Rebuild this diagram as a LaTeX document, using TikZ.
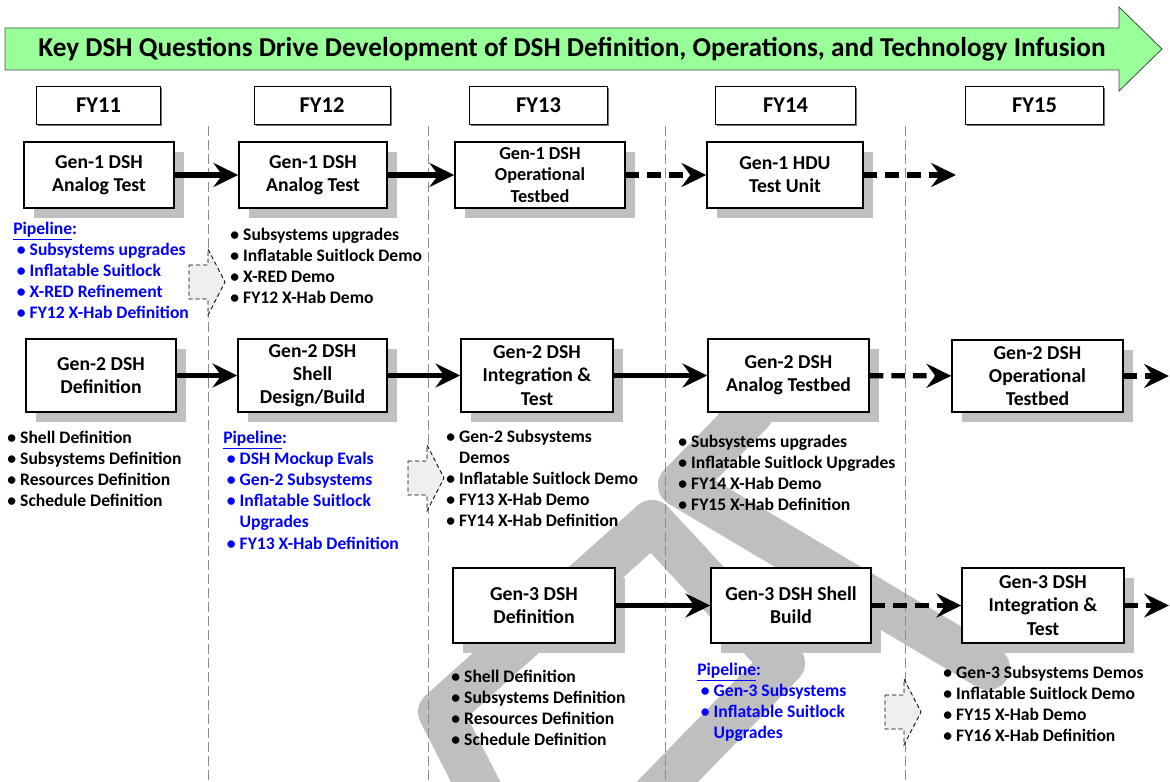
\documentclass[tikz,border=0pt]{standalone}
\usepackage{fontspec}
\setmainfont{Carlito}
\usetikzlibrary{arrows.meta,shadows}
\definecolor{arrowgreen}{HTML}{99FF99}
\definecolor{shade}{HTML}{C0C0C0}
\definecolor{markgray}{HTML}{BFBFBF}
\definecolor{pipeblue}{HTML}{0000FF}
\definecolor{divgray}{HTML}{8C8C8C}
\definecolor{pushfill}{HTML}{EFEFEF}
\tikzstyle{genbox}=[draw=black, fill=white, line width=1pt, align=center, inner sep=0pt, font=\bfseries\fontsize{14}{16.5}\selectfont, drop shadow={fill=shade, opacity=1, shadow xshift=0.25cm, shadow yshift=-0.26cm}]
\tikzstyle{yearbox}=[draw=black, fill=white, line width=0.6pt, minimum height=0.95cm, font=\bfseries\fontsize{16}{18}\selectfont, drop shadow={fill=black!55, opacity=1, shadow xshift=0.04cm, shadow yshift=-0.04cm}]
\tikzstyle{notes}=[anchor=north west, inner sep=0pt, align=left, font=\bfseries\fontsize{12.5}{15}\selectfont]
\tikzstyle{pipe}=[notes, text=pipeblue]
\tikzstyle{flow}=[line width=3.8pt, -{Stealth[length=0.62cm, width=0.6cm, inset=0.22cm]}]
\tikzstyle{plan}=[flow, dash pattern=on 0.34cm off 0.2cm]
\tikzstyle{divider}=[divgray, line width=0.7pt, dash pattern=on 0.25cm off 0.1cm]
\tikzstyle{wmark}=[markgray, line width=1.1cm, line cap=round, line join=round]
\tikzset{push/.pic={\draw[fill=pushfill, line width=0.6pt, dash pattern=on 3pt off 2pt] (-19,-17) -- (0,-17) -- (0,-33) -- (17,0) -- (0,33) -- (0,17) -- (-19,17) -- cycle;}}
\newcommand{\itm}{\makebox[9.2pt][l]{\textbullet}}
\newcommand{\ind}{\hspace*{9.2pt}}
\newcommand{\pin}{\hspace*{2.5pt}}

\begin{document}
\begin{tikzpicture}[x=0.025cm, y=-0.025cm]
  \useasboundingbox (0,0) rectangle (1170,782);
  % watermark strokes
  \begin{scope}
    \clip (0,0) rectangle (1170,782);
    \draw[wmark] (490,810) -- (440,712) -- (652,522) -- (783,663) -- (640,810);
    \draw[wmark] (752,412) -- (680,485) -- (988,668);
  \end{scope}
  % banner
  \draw[fill=arrowgreen, draw=black!70, line width=0.6pt] (5,28) -- (1119,28) -- (1119,7) -- (1162,49) -- (1119,91) -- (1119,70) -- (5,70) -- cycle;
  \node[font=\bfseries\fontsize{19.4}{22}\selectfont] (title) at (572,49) {Key DSH Questions Drive Development of DSH Definition, Operations, and Technology Infusion};
  % years
  \node[yearbox, minimum width=3.08cm] (fy11) at (98.5,105) {FY11};
  \node[yearbox, minimum width=3.4cm] (fy12) at (322,105) {FY12};
  \node[yearbox, minimum width=3.43cm] (fy13) at (538.5,105) {FY13};
  \node[yearbox, minimum width=3.48cm] (fy14) at (785.5,105) {FY14};
  \node[yearbox, minimum width=3.43cm] (fy15) at (1034.5,105) {FY15};
  \foreach \x in {208,428,665,905}
    \draw[divider] (\x,126) -- (\x,782);
  % Gen-1
  \node[genbox, minimum width=3.75cm, minimum height=1.65cm] (g11) at (99,175) {Gen-1 DSH\\Analog Test};
  \node[genbox, minimum width=3.7cm, minimum height=1.65cm] (g12) at (313,175) {Gen-1 DSH\\Analog Test};
  \node[genbox, minimum width=4.25cm, minimum height=1.65cm, font=\bfseries\fontsize{13}{15.4}\selectfont] (g13) at (540,175) {Gen-1 DSH\\Operational\\Testbed};
  \node[genbox, minimum width=3.9cm, minimum height=1.65cm] (g14) at (785,175) {Gen-1 HDU\\Test Unit};
  \coordinate (e14) at (956,175);
  \draw[flow] (g11) -- (g12);
  \draw[flow] (g12) -- (g13);
  \draw[plan] (g13) -- (g14);
  \draw[plan] (g14) -- (e14);
  \node[pipe] (l11) at (13,222) {\underline{Pipeline}:\\\pin\itm Subsystems upgrades\\\pin\itm Inflatable Suitlock\\\pin\itm X-RED Refinement\\\pin\itm FY12 X-Hab Definition};
  \node[notes] (l12) at (230,228) {\itm Subsystems upgrades\\\itm Inflatable Suitlock Demo\\\itm X-RED Demo\\\itm FY12 X-Hab Demo};
  \pic at (208,282) {push};
  % Gen-2
  \node[genbox, minimum width=3.75cm, minimum height=1.825cm] (g21) at (101,375.5) {Gen-2 DSH\\Definition};
  \node[genbox, minimum width=3.725cm, minimum height=1.825cm] (g22) at (312.5,375.5) {Gen-2 DSH\\Shell\\Design/Build};
  \node[genbox, minimum width=3.8cm, minimum height=1.825cm] (g23) at (537,375.5) {Gen-2 DSH\\Integration \&\\Test};
  \node[genbox, minimum width=4.025cm, minimum height=1.825cm] (g24) at (788.5,375.5) {Gen-2 DSH\\Analog Testbed};
  \node[genbox, minimum width=4.275cm, minimum height=1.8cm] (g25) at (1037.5,376) {Gen-2 DSH\\Operational\\Testbed};
  \coordinate (e25) at (1169,376);
  \draw[flow] (g21) -- (g22);
  \draw[flow] (g22) -- (g23);
  \draw[flow] (g23) -- (g24);
  \draw[plan] (g24) -- (g25);
  \draw[plan] (g25) -- (e25);
  \node[notes] (l21) at (7,431) {\itm Shell Definition\\\itm Subsystems Definition\\\itm Resources Definition\\\itm Schedule Definition};
  \node[pipe] (l22) at (223,431) {\underline{Pipeline}:\\\pin\itm DSH Mockup Evals\\\pin\itm Gen-2 Subsystems\\\pin\itm Inflatable Suitlock\\\pin\ind Upgrades\\\pin\itm FY13 X-Hab Definition};
  \node[notes] (l23) at (446,430) {\itm Gen-2 Subsystems\\\ind Demos\\\itm Inflatable Suitlock Demo\\\itm FY13 X-Hab Demo\\\itm FY14 X-Hab Definition};
  \node[notes] (l24) at (678,435) {\itm Subsystems upgrades\\\itm Inflatable Suitlock Upgrades\\\itm FY14 X-Hab Demo\\\itm FY15 X-Hab Definition};
  \pic at (427,478) {push};
  % Gen-3
  \node[genbox, minimum width=4.05cm, minimum height=1.875cm] (g31) at (534,605.5) {Gen-3 DSH\\Definition};
  \node[genbox, minimum width=4cm, minimum height=1.875cm] (g32) at (791,605.5) {Gen-3 DSH Shell\\Build};
  \node[genbox, minimum width=4.05cm, minimum height=1.875cm] (g33) at (1043,605.5) {Gen-3 DSH\\Integration \&\\Test};
  \coordinate (e33) at (1169,605.5);
  \draw[flow] (g31) -- (g32);
  \draw[plan] (g32) -- (g33);
  \draw[plan] (g33) -- (e33);
  \node[notes] (l31) at (451,670) {\itm Shell Definition\\\itm Subsystems Definition\\\itm Resources Definition\\\itm Schedule Definition};
  \node[pipe] (l32) at (697,663) {\underline{Pipeline}:\\\pin\itm Gen-3 Subsystems\\\pin\itm Inflatable Suitlock\\\pin\ind Upgrades};
  \node[notes] (l33) at (943,666) {\itm Gen-3 Subsystems Demos\\\itm Inflatable Suitlock Demo\\\itm FY15 X-Hab Demo\\\itm FY16 X-Hab Definition};
  \pic at (904,712) {push};
\end{tikzpicture}
\end{document}
